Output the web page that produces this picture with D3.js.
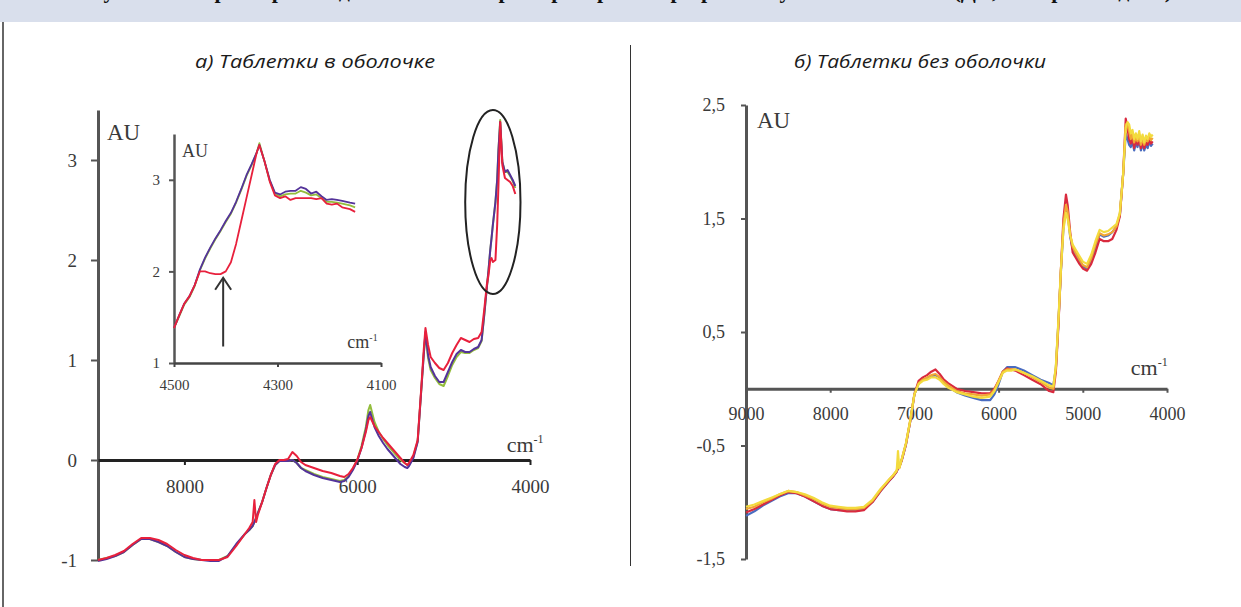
<!DOCTYPE html>
<html>
<head>
<meta charset="utf-8">
<script src="https://cdn.jsdelivr.net/npm/d3@7"></script>
<style>
  body { margin:0; background:#fff; }
  svg { display:block; }
  .tickText { font-family:"Liberation Serif","Times New Roman",serif; fill:#3a3a3a; }
  .panelTitle { font-family:"Open Sans",sans-serif; font-style:italic; fill:#1a1a1a; }
</style>
</head>
<body>
<script>

/* left chart: coated tablets */
var leftWn = [9000, 8900, 8800, 8700, 8600, 8500, 8400, 8300, 8200, 8100,
  8000, 7900, 7800, 7700, 7600, 7500, 7400, 7300, 7250, 7210,
  7190, 7170, 7150, 7100, 7050, 7000, 6950, 6900, 6850, 6800,
  6750, 6700, 6650, 6600, 6500, 6400, 6300, 6200, 6150, 6100,
  6050, 6000, 5950, 5900, 5870, 5850, 5800, 5750, 5700, 5650,
  5600, 5550, 5500, 5450, 5420, 5400, 5350, 5300, 5260, 5230,
  5210, 5180, 5150, 5100, 5050, 5000, 4950, 4900, 4850, 4800,
  4750, 4700, 4650, 4600, 4560, 4530, 4500, 4480, 4460, 4445,
  4430, 4400, 4380, 4365, 4345, 4320, 4290, 4260, 4230, 4200,
  4170]
var leftGreen = [-1.00, -0.98, -0.96, -0.92, -0.85, -0.79, -0.79, -0.82, -0.86, -0.92,
  -0.97, -0.99, -1.00, -1.00, -1.00, -0.96, -0.85, -0.74, -0.70, -0.66,
  -0.62, -0.58, -0.53, -0.42, -0.28, -0.15, -0.05, -0.01, -0.01, -0.01,
  0.00, -0.03, -0.08, -0.10, -0.14, -0.17, -0.19, -0.21, -0.20, -0.16,
  -0.09, 0.00, 0.14, 0.33, 0.50, 0.55, 0.38, 0.28, 0.21, 0.15,
  0.10, 0.05, 0.00, -0.03, -0.05, -0.04, 0.03, 0.19, 0.68, 1.05,
  1.26, 1.02, 0.90, 0.82, 0.76, 0.74, 0.84, 0.95, 1.03, 1.08,
  1.07, 1.07, 1.10, 1.12, 1.19, 1.44, 1.72, 1.90, 2.10, 2.22,
  2.35, 2.58, 2.80, 3.10, 3.40, 2.98, 2.88, 2.88, 2.84, 2.79,
  2.72]
var leftPurple = [-1.01, -0.99, -0.96, -0.92, -0.85, -0.79, -0.79, -0.82, -0.86, -0.92,
  -0.97, -0.99, -1.00, -1.01, -1.01, -0.96, -0.84, -0.74, -0.70, -0.66,
  -0.62, -0.58, -0.53, -0.42, -0.28, -0.15, -0.05, -0.01, -0.01, -0.01,
  0.00, -0.03, -0.08, -0.11, -0.15, -0.18, -0.20, -0.22, -0.21, -0.17,
  -0.10, -0.01, 0.12, 0.30, 0.44, 0.48, 0.33, 0.24, 0.17, 0.11,
  0.06, 0.01, -0.04, -0.07, -0.08, -0.06, 0.02, 0.18, 0.68, 1.05,
  1.28, 1.05, 0.93, 0.84, 0.78, 0.78, 0.88, 0.98, 1.06, 1.10,
  1.08, 1.08, 1.11, 1.13, 1.20, 1.45, 1.72, 1.90, 2.10, 2.22,
  2.35, 2.58, 2.80, 3.10, 3.38, 2.98, 2.88, 2.90, 2.85, 2.80,
  2.74]
var leftRed = [-1.00, -0.98, -0.95, -0.91, -0.84, -0.78, -0.78, -0.80, -0.84, -0.90,
  -0.95, -0.98, -1.00, -1.00, -1.00, -0.97, -0.86, -0.74, -0.68, -0.62,
  -0.40, -0.62, -0.55, -0.42, -0.28, -0.15, -0.04, 0.00, 0.00, 0.01,
  0.08, 0.04, -0.02, -0.05, -0.08, -0.11, -0.13, -0.16, -0.17, -0.14,
  -0.08, 0.00, 0.12, 0.28, 0.40, 0.43, 0.34, 0.28, 0.22, 0.17,
  0.12, 0.07, 0.02, -0.03, -0.05, -0.03, 0.05, 0.20, 0.70, 1.10,
  1.32, 1.15, 1.03, 0.97, 0.92, 0.90, 0.97, 1.07, 1.15, 1.22,
  1.20, 1.18, 1.21, 1.22, 1.28, 1.50, 1.75, 1.85, 2.00, 2.02,
  1.98, 2.00, 2.35, 2.75, 3.38, 2.95, 2.82, 2.80, 2.78, 2.74,
  2.66]
var leftXTicks = [8000, 6000, 4000]
var leftYTicks = [-1, 0, 1, 2, 3]

/* inset of left chart */
var insetWn = [4500, 4490, 4480, 4470, 4460, 4450, 4440, 4430, 4420, 4410,
  4400, 4390, 4380, 4370, 4360, 4350, 4340, 4335, 4325, 4315,
  4305, 4295, 4285, 4275, 4265, 4255, 4245, 4235, 4225, 4215,
  4205, 4195, 4185, 4175, 4160, 4150]
var insetGreen = [1.38, 1.51, 1.64, 1.72, 1.84, 2.01, 2.14, 2.25, 2.35, 2.44,
  2.54, 2.63, 2.75, 2.89, 3.04, 3.16, 3.30, 3.40, 3.20, 2.99,
  2.85, 2.82, 2.84, 2.85, 2.85, 2.88, 2.86, 2.83, 2.84, 2.80,
  2.76, 2.76, 2.75, 2.74, 2.72, 2.70]
var insetPurple = [1.38, 1.52, 1.65, 1.73, 1.85, 2.02, 2.15, 2.26, 2.36, 2.45,
  2.55, 2.64, 2.76, 2.90, 3.05, 3.17, 3.30, 3.38, 3.20, 3.00,
  2.86, 2.84, 2.87, 2.88, 2.88, 2.92, 2.90, 2.85, 2.87, 2.82,
  2.78, 2.79, 2.78, 2.77, 2.75, 2.74]
var insetRed = [1.38, 1.52, 1.65, 1.73, 1.85, 2.00, 2.00, 1.98, 1.97, 1.97,
  2.00, 2.10, 2.30, 2.55, 2.80, 3.05, 3.30, 3.38, 3.20, 2.98,
  2.83, 2.80, 2.82, 2.78, 2.80, 2.80, 2.80, 2.80, 2.79, 2.80,
  2.74, 2.73, 2.74, 2.70, 2.68, 2.65]
var insetXTicks = [4500, 4300, 4100]
var insetYTicks = [1, 2, 3]

/* right chart: uncoated tablets */
var rightWn = [9000, 8900, 8800, 8700, 8600, 8500, 8400, 8300, 8200, 8100,
  8000, 7900, 7800, 7700, 7600, 7500, 7400, 7300, 7250, 7210,
  7195, 7180, 7150, 7100, 7050, 7000, 6950, 6900, 6850, 6800,
  6750, 6700, 6650, 6600, 6500, 6400, 6300, 6200, 6100, 6050,
  6000, 5950, 5900, 5850, 5800, 5700, 5600, 5500, 5400, 5350,
  5320, 5290, 5260, 5230, 5200, 5180, 5150, 5120, 5080, 5040,
  5000, 4950, 4900, 4850, 4800, 4750, 4700, 4650, 4600, 4560,
  4520, 4490, 4470, 4450, 4430, 4410, 4390, 4370, 4350, 4330,
  4310, 4290, 4270, 4250, 4230, 4210, 4190, 4170]
var rightBlue = [-1.12, -1.08, -1.03, -0.99, -0.95, -0.92, -0.92, -0.95, -0.99, -1.03,
  -1.06, -1.07, -1.07, -1.07, -1.06, -1.00, -0.90, -0.81, -0.77, -0.73,
  -0.70, -0.69, -0.63, -0.49, -0.29, -0.05, 0.05, 0.08, 0.09, 0.11,
  0.12, 0.10, 0.05, 0.02, -0.03, -0.06, -0.08, -0.10, -0.10, -0.05,
  0.04, 0.15, 0.19, 0.19, 0.19, 0.16, 0.12, 0.08, 0.05, 0.03,
  0.18, 0.58, 1.03, 1.42, 1.60, 1.55, 1.34, 1.23, 1.18, 1.13,
  1.08, 1.06, 1.13, 1.24, 1.36, 1.34, 1.35, 1.38, 1.43, 1.53,
  1.90, 2.25, 2.20, 2.15, 2.13, 2.18, 2.10, 2.17, 2.13, 2.20,
  2.10, 2.16, 2.10, 2.15, 2.12, 2.18, 2.14, 2.16]
var rightRed = [-1.09, -1.06, -1.02, -0.98, -0.94, -0.91, -0.92, -0.95, -0.99, -1.03,
  -1.06, -1.07, -1.08, -1.08, -1.07, -1.00, -0.90, -0.81, -0.77, -0.73,
  -0.70, -0.69, -0.63, -0.49, -0.29, -0.05, 0.07, 0.10, 0.12, 0.15,
  0.17, 0.13, 0.08, 0.05, 0.00, -0.02, -0.03, -0.04, -0.04, 0.00,
  0.07, 0.15, 0.18, 0.17, 0.16, 0.12, 0.08, 0.04, -0.02, -0.03,
  0.15, 0.55, 1.05, 1.50, 1.71, 1.62, 1.38, 1.20, 1.15, 1.10,
  1.06, 1.04, 1.10, 1.20, 1.32, 1.30, 1.30, 1.32, 1.40, 1.52,
  1.90, 2.38, 2.30, 2.20, 2.16, 2.22, 2.12, 2.20, 2.15, 2.22,
  2.12, 2.18, 2.12, 2.17, 2.15, 2.20, 2.16, 2.18]
var rightOrange = [-1.06, -1.04, -1.00, -0.97, -0.93, -0.90, -0.91, -0.94, -0.97, -1.01,
  -1.04, -1.05, -1.06, -1.06, -1.05, -0.99, -0.89, -0.80, -0.76, -0.72,
  -0.66, -0.70, -0.62, -0.48, -0.28, -0.05, 0.05, 0.08, 0.10, 0.12,
  0.13, 0.10, 0.06, 0.03, -0.02, -0.04, -0.05, -0.06, -0.05, -0.01,
  0.07, 0.15, 0.17, 0.17, 0.17, 0.14, 0.10, 0.06, 0.01, 0.00,
  0.18, 0.58, 1.05, 1.45, 1.62, 1.56, 1.36, 1.25, 1.19, 1.14,
  1.09, 1.07, 1.15, 1.27, 1.37, 1.35, 1.36, 1.38, 1.43, 1.54,
  1.90, 2.33, 2.32, 2.27, 2.20, 2.25, 2.17, 2.22, 2.18, 2.24,
  2.15, 2.21, 2.15, 2.20, 2.18, 2.22, 2.19, 2.21]
var rightYellow = [-1.04, -1.02, -0.99, -0.96, -0.93, -0.90, -0.91, -0.93, -0.96, -1.00,
  -1.03, -1.04, -1.05, -1.05, -1.04, -0.98, -0.88, -0.80, -0.76, -0.72,
  -0.55, -0.70, -0.62, -0.48, -0.28, -0.05, 0.04, 0.07, 0.08, 0.10,
  0.10, 0.08, 0.04, 0.01, -0.03, -0.05, -0.07, -0.08, -0.07, -0.02,
  0.06, 0.14, 0.16, 0.16, 0.17, 0.14, 0.11, 0.07, 0.03, 0.02,
  0.20, 0.60, 1.05, 1.40, 1.55, 1.50, 1.35, 1.27, 1.22, 1.17,
  1.12, 1.10, 1.18, 1.30, 1.40, 1.38, 1.39, 1.42, 1.45, 1.55,
  1.90, 2.30, 2.35, 2.33, 2.25, 2.28, 2.20, 2.25, 2.20, 2.27,
  2.18, 2.24, 2.17, 2.23, 2.20, 2.25, 2.22, 2.24]
var rightXTicks = [9000, 8000, 7000, 6000, 5000, 4000]
var rightYTicks = [-1.5, -0.5, 0.5, 1.5, 2.5]

var panelTitles = ["а) Таблетки в оболочке", "б) Таблетки без оболочки"]
var figTitle = "Рисунок 3. Вторые производные NIR-спектров препаратов при разных условиях съёмки (ДК, 2-я производная)"

var svg = d3.select("body")
  .append("svg")
  .attr("width",1241)
  .attr("height",607)

/* header band and frame */
svg.append("rect")
  .attr("x",0).attr("y",0)
  .attr("width",1241).attr("height",22)
  .attr("fill","#d9dfec")
/* the figure caption sits mostly above the picture, only its descenders show */
svg.append("text")
  .attr("x",620)
  .attr("y",-2)
  .attr("text-anchor","middle")
  .style("font-family","'Liberation Serif',serif")
  .style("font-weight","bold")
  .style("font-size","22px")
  .style("fill","#111")
  .text(figTitle)
svg.append("line")
  .attr("x1",3).attr("x2",3)
  .attr("y1",22).attr("y2",607)
  .style("stroke","#333")
  .style("stroke-width",1.5)
svg.append("line")
  .attr("x1",630.5).attr("x2",630.5)
  .attr("y1",45).attr("y2",566)
  .style("stroke","#333")
  .style("stroke-width",1)

svg.append("text")
  .attr("class","panelTitle")
  .attr("x",315).attr("y",68)
  .attr("text-anchor","middle")
  .attr("textLength",240)
  .attr("lengthAdjust","spacingAndGlyphs")
  .style("font-size","19px")
  .text(panelTitles[0])
svg.append("text")
  .attr("class","panelTitle")
  .attr("x",920).attr("y",68)
  .attr("text-anchor","middle")
  .attr("textLength",252)
  .attr("lengthAdjust","spacingAndGlyphs")
  .style("font-size","19px")
  .text(panelTitles[1])

function plainFmt(d) {
  return String(d)
}
function commaFmt(d) {
  return String(d).replace(".", ",")
}

function styleAxis(g, color, width, fontSize) {
  g.select(".domain")
    .style("stroke",color)
    .style("stroke-width",width)
  g.selectAll(".tick line")
    .style("stroke",color)
    .style("stroke-width",2)
  g.selectAll(".tick text")
    .attr("class","tickText")
    .style("font-size",fontSize)
}

function drawSeries(g, xs, ys, wn, vals, color, width) {
  var lineFn = d3.line()
    .x(function(d,i) { return xs(wn[i]) })
    .y(function(d) { return ys(d) })
  g.append("path")
    .attr("d",lineFn(vals))
    .attr("fill","none")
    .attr("stroke",color)
    .attr("stroke-width",width)
    .attr("stroke-linejoin","round")
}

function cmLabel(g, x, y, size) {
  var t = g.append("text")
    .attr("class","tickText")
    .attr("x",x).attr("y",y)
    .style("font-size",size + "px")
  t.append("tspan").text("cm")
  t.append("tspan")
    .attr("dy",-size * 0.4)
    .style("font-size",(size * 0.55) + "px")
    .text("-1")
}

/* ---- left main chart ---- */
var leftG = svg.append("g")
var xA = d3.scaleLinear().domain([9000,4000]).range([98,530])
var yA = d3.scaleLinear().domain([-1,3.5]).range([560,110])

var leftYAxis = leftG.append("g")
  .attr("transform","translate(" + xA(9000) + ",0)")
  .call(d3.axisLeft(yA).tickValues(leftYTicks).tickSize(7).tickSizeOuter(0).tickPadding(14).tickFormat(plainFmt))
styleAxis(leftYAxis, "#555", 3, "19px")

var leftXAxis = leftG.append("g")
  .attr("transform","translate(0," + yA(0) + ")")
  .call(d3.axisBottom(xA).tickValues(leftXTicks).tickSize(5).tickSizeOuter(0).tickPadding(15).tickFormat(plainFmt))
styleAxis(leftXAxis, "#222", 3, "19px")

leftG.append("text")
  .attr("class","tickText")
  .attr("x",xA(9000) + 9).attr("y",yA(3.2))
  .style("font-size","23px")
  .text("AU")
cmLabel(leftG, xA(4270), yA(0.08), 22)

drawSeries(leftG, xA, yA, leftWn, leftGreen, "#93bd3c", 2)
drawSeries(leftG, xA, yA, leftWn, leftPurple, "#54339a", 2)
drawSeries(leftG, xA, yA, leftWn, leftRed, "#e8203c", 2)

/* circled peak */
leftG.append("ellipse")
  .attr("cx",xA(4430))
  .attr("cy",yA(2.58))
  .attr("rx",xA(4110) - xA(4430))
  .attr("ry",yA(1.66) - yA(2.58))
  .attr("fill","none")
  .attr("stroke","#222")
  .attr("stroke-width",2)

/* ---- inset ---- */
var insetG = svg.append("g")
var xI = d3.scaleLinear().domain([4500,4100]).range([174,381])
var yI = d3.scaleLinear().domain([1,3.5]).range([363,134])

var insetYAxis = insetG.append("g")
  .attr("transform","translate(" + xI(4500) + ",0)")
  .call(d3.axisLeft(yI).tickValues(insetYTicks).tickSize(5).tickSizeOuter(0).tickPadding(9).tickFormat(plainFmt))
styleAxis(insetYAxis, "#555", 2.5, "15px")

var insetXAxis = insetG.append("g")
  .attr("transform","translate(0," + yI(1) + ")")
  .call(d3.axisBottom(xI).tickValues(insetXTicks).tickSize(4).tickSizeOuter(0).tickPadding(12).tickFormat(plainFmt))
styleAxis(insetXAxis, "#444", 2.5, "15px")

insetG.append("text")
  .attr("class","tickText")
  .attr("x",xI(4500) + 8).attr("y",yI(3.25))
  .style("font-size","18px")
  .text("AU")
cmLabel(insetG, xI(4165), yI(1.16), 18)

drawSeries(insetG, xI, yI, insetWn, insetGreen, "#93bd3c", 1.8)
drawSeries(insetG, xI, yI, insetWn, insetPurple, "#54339a", 1.8)
drawSeries(insetG, xI, yI, insetWn, insetRed, "#e8203c", 1.8)

/* arrow pointing at the dip */
var arrowX = xI(4405)
insetG.append("line")
  .attr("x1",arrowX).attr("x2",arrowX)
  .attr("y1",yI(1.18)).attr("y2",yI(1.93))
  .style("stroke","#333")
  .style("stroke-width",2)
insetG.append("path")
  .attr("d","M" + (arrowX - 8) + "," + (yI(1.93) + 12) + "L" + arrowX + "," + yI(1.93) + "L" + (arrowX + 8) + "," + (yI(1.93) + 12))
  .attr("fill","none")
  .style("stroke","#333")
  .style("stroke-width",2)

/* ---- right chart ---- */
var rightG = svg.append("g")
var xB = d3.scaleLinear().domain([9000,4000]).range([746,1167])
var yB = d3.scaleLinear().domain([-1.5,2.5]).range([559,105])

var rightYAxis = rightG.append("g")
  .attr("transform","translate(" + xB(9000) + ",0)")
  .call(d3.axisLeft(yB).tickValues(rightYTicks).tickSize(5).tickSizeOuter(0).tickPadding(16).tickFormat(commaFmt))
styleAxis(rightYAxis, "#555", 3, "18px")

var rightXAxis = rightG.append("g")
  .attr("transform","translate(0," + yB(0) + ")")
  .call(d3.axisBottom(xB).tickValues(rightXTicks).tickSize(4).tickSizeOuter(0).tickPadding(14).tickFormat(plainFmt))
styleAxis(rightXAxis, "#555", 3, "18px")

rightG.append("text")
  .attr("class","tickText")
  .attr("x",xB(9000) + 11).attr("y",yB(2.3))
  .style("font-size","23px")
  .text("AU")
cmLabel(rightG, xB(4430), yB(0.12), 22)

drawSeries(rightG, xB, yB, rightWn, rightBlue, "#4a6cc0", 2.2)
drawSeries(rightG, xB, yB, rightWn, rightRed, "#d92a3e", 2.2)
drawSeries(rightG, xB, yB, rightWn, rightOrange, "#f2a634", 2.2)
drawSeries(rightG, xB, yB, rightWn, rightYellow, "#f3db3e", 2.2)

</script>
</body>
</html>
